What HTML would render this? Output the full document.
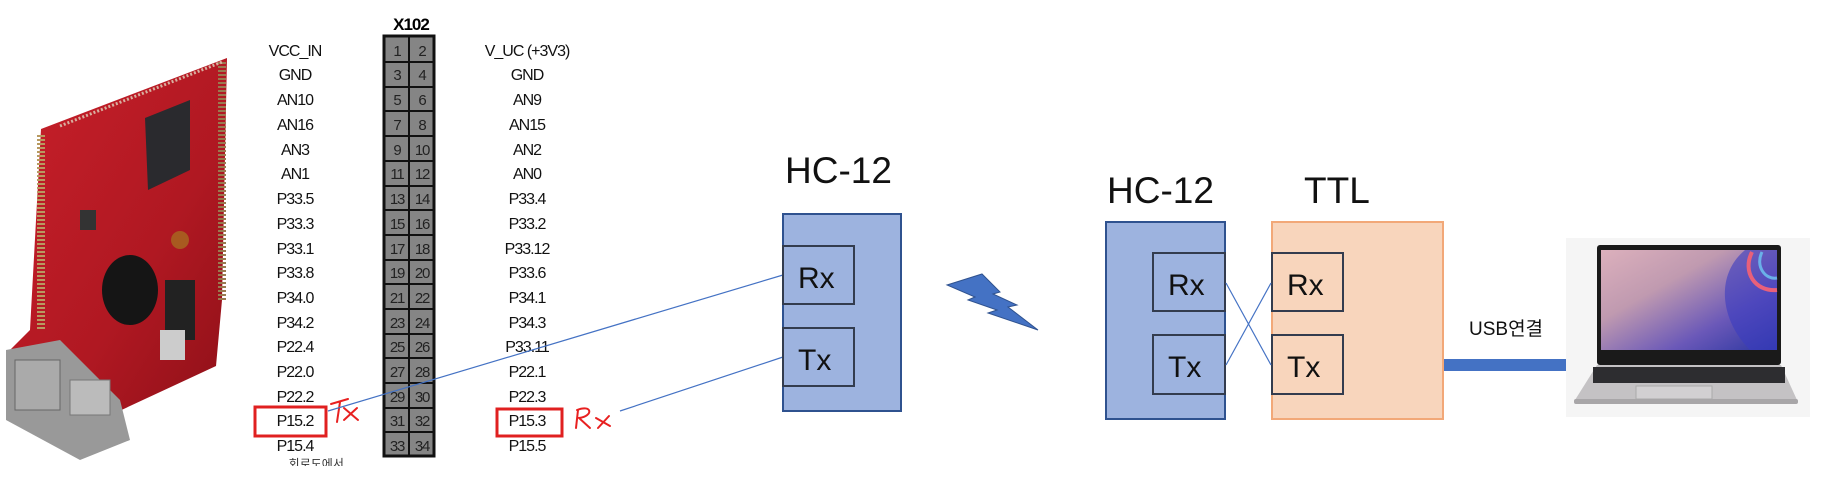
<!DOCTYPE html>
<html><head><meta charset="utf-8"><style>
html,body{margin:0;padding:0;background:#fff;}
svg{display:block}
text{font-family:"Liberation Sans","Noto Sans CJK KR",sans-serif;}
</style></head><body>
<svg width="1823" height="497" viewBox="0 0 1823 497" xmlns="http://www.w3.org/2000/svg">
<defs>
<linearGradient id="rb" x1="0" y1="0" x2="1" y2="1">
<stop offset="0" stop-color="#c8202a"/><stop offset="0.6" stop-color="#b01822"/><stop offset="1" stop-color="#8e1018"/>
</linearGradient>
<linearGradient id="scr" x1="0" y1="0" x2="1" y2="1">
<stop offset="0" stop-color="#dcb0bc"/><stop offset="0.35" stop-color="#c09ab0"/><stop offset="0.7" stop-color="#6a58b8"/><stop offset="1" stop-color="#2a36a0"/>
</linearGradient>
</defs>

<!-- board photo -->
<polygon points="41,129 227,58 222,300 216,366 100,420 6,416 10,350 30,330" fill="url(#rb)"/>
<polygon points="80,460 6,420 6,350 60,340 120,400 130,440" fill="#999"/>
<rect x="15" y="360" width="45" height="50" fill="#aaa" stroke="#666"/>
<rect x="70" y="380" width="40" height="35" fill="#bbb" stroke="#777"/>
<line x1="41" y1="135" x2="41" y2="330" stroke="#b89a60" stroke-width="8" stroke-dasharray="2,2"/>
<line x1="222" y1="62" x2="222" y2="300" stroke="#9a7a50" stroke-width="8" stroke-dasharray="2,2"/>
<line x1="60" y1="126" x2="222" y2="62" stroke="#d8b0a0" stroke-width="3" stroke-dasharray="2,2"/>
<polygon points="145,118 190,100 190,170 148,190" fill="#2a2a2e"/>
<ellipse cx="130" cy="290" rx="28" ry="35" fill="#151515"/>
<rect x="165" y="280" width="30" height="60" fill="#222"/>
<circle cx="180" cy="240" r="9" fill="#a85a20"/>
<rect x="80" y="210" width="16" height="20" fill="#333"/>
<rect x="160" y="330" width="25" height="30" fill="#ccc"/>

<!-- header -->
<text x="411" y="30" text-anchor="middle" font-size="17" font-weight="bold" letter-spacing="-1">X102</text>
<rect x="384" y="36" width="50" height="420" fill="#858585" stroke="#111" stroke-width="3"/>
<line x1="409" y1="36" x2="409" y2="456" stroke="#111" stroke-width="2"/>
<g stroke="#111" stroke-width="2">
<line x1="384" y1="62" x2="434" y2="62"/><line x1="384" y1="87" x2="434" y2="87"/><line x1="384" y1="111" x2="434" y2="111"/><line x1="384" y1="136" x2="434" y2="136"/><line x1="384" y1="161" x2="434" y2="161"/><line x1="384" y1="186" x2="434" y2="186"/><line x1="384" y1="210" x2="434" y2="210"/><line x1="384" y1="235" x2="434" y2="235"/><line x1="384" y1="260" x2="434" y2="260"/><line x1="384" y1="284" x2="434" y2="284"/><line x1="384" y1="309" x2="434" y2="309"/><line x1="384" y1="334" x2="434" y2="334"/><line x1="384" y1="358" x2="434" y2="358"/><line x1="384" y1="383" x2="434" y2="383"/><line x1="384" y1="408" x2="434" y2="408"/><line x1="384" y1="432" x2="434" y2="432"/>
</g>
<g font-size="15" fill="#222" text-anchor="middle" letter-spacing="-1.2">
<text x="397" y="56">1</text><text x="422" y="56">2</text>
<text x="397" y="80">3</text><text x="422" y="80">4</text>
<text x="397" y="105">5</text><text x="422" y="105">6</text>
<text x="397" y="130">7</text><text x="422" y="130">8</text>
<text x="397" y="155">9</text><text x="422" y="155">10</text>
<text x="397" y="179">11</text><text x="422" y="179">12</text>
<text x="397" y="204">13</text><text x="422" y="204">14</text>
<text x="397" y="229">15</text><text x="422" y="229">16</text>
<text x="397" y="254">17</text><text x="422" y="254">18</text>
<text x="397" y="278">19</text><text x="422" y="278">20</text>
<text x="397" y="303">21</text><text x="422" y="303">22</text>
<text x="397" y="328">23</text><text x="422" y="328">24</text>
<text x="397" y="352">25</text><text x="422" y="352">26</text>
<text x="397" y="377">27</text><text x="422" y="377">28</text>
<text x="397" y="402">29</text><text x="422" y="402">30</text>
<text x="397" y="426">31</text><text x="422" y="426">32</text>
<text x="397" y="451">33</text><text x="422" y="451">34</text>
</g>
<g font-size="16" fill="#111" text-anchor="middle" letter-spacing="-1">
<text x="295" y="56">VCC_IN</text><text x="295" y="80">GND</text><text x="295" y="105">AN10</text><text x="295" y="130">AN16</text><text x="295" y="155">AN3</text><text x="295" y="179">AN1</text><text x="295" y="204">P33.5</text><text x="295" y="229">P33.3</text><text x="295" y="254">P33.1</text><text x="295" y="278">P33.8</text><text x="295" y="303">P34.0</text><text x="295" y="328">P34.2</text><text x="295" y="352">P22.4</text><text x="295" y="377">P22.0</text><text x="295" y="402">P22.2</text><text x="295" y="426">P15.2</text><text x="295" y="451">P15.4</text>
<text x="527" y="56">V_UC (+3V3)</text><text x="527" y="80">GND</text><text x="527" y="105">AN9</text><text x="527" y="130">AN15</text><text x="527" y="155">AN2</text><text x="527" y="179">AN0</text><text x="527" y="204">P33.4</text><text x="527" y="229">P33.2</text><text x="527" y="254">P33.12</text><text x="527" y="278">P33.6</text><text x="527" y="303">P34.1</text><text x="527" y="328">P34.3</text><text x="527" y="352">P33.11</text><text x="527" y="377">P22.1</text><text x="527" y="402">P22.3</text><text x="527" y="426">P15.3</text><text x="527" y="451">P15.5</text>
</g>
<rect x="255" y="407" width="71" height="29" fill="none" stroke="#e02020" stroke-width="3"/>
<rect x="497" y="409" width="65" height="27" fill="none" stroke="#e02020" stroke-width="3"/>
<g fill="none" stroke="#e82020" stroke-width="2" stroke-linecap="round">
<path d="M331,404 L348,399 M340,402 L337,422 M344,408 L358,420 M357,408 L344,420"/>
<path d="M578,410 L576,428 M577,410 C592,404 594,416 579,418 L590,428 M596,418 L610,426 M609,416 L598,428"/>
</g>
<text x="282" y="468" font-size="12" fill="#333">. 회로도에서 .</text>
<rect x="240" y="466" width="200" height="31" fill="#fff"/>

<!-- connection lines -->
<line x1="328" y1="411" x2="783" y2="275" stroke="#4472c4" stroke-width="1.2"/>
<line x1="620" y1="411" x2="783" y2="357" stroke="#4472c4" stroke-width="1.2"/>

<!-- left HC-12 -->
<text x="785" y="183" font-size="37" fill="#111">HC-12</text>
<rect x="783" y="214" width="118" height="197" fill="#9db3df" stroke="#2f528f" stroke-width="2"/>
<rect x="783" y="246" width="71" height="58" fill="#9db3df" stroke="#333c4e" stroke-width="2"/>
<rect x="783" y="328" width="71" height="58" fill="#9db3df" stroke="#333c4e" stroke-width="2"/>
<text x="798" y="288" font-size="30" fill="#111">Rx</text>
<text x="798" y="370" font-size="30" fill="#111">Tx</text>

<!-- lightning -->
<polygon points="947,285 982,274 1000,292 993,294 1017,305 1008,307 1038,330 988,313 997,310 968,300 975,297" fill="#4472c4" stroke="#2f528f" stroke-width="1"/>

<!-- right HC-12 -->
<text x="1107" y="203" font-size="37" fill="#111">HC-12</text>
<rect x="1106" y="222" width="119" height="197" fill="#9db3df" stroke="#2f528f" stroke-width="2"/>
<rect x="1153" y="253" width="72" height="58" fill="#9db3df" stroke="#333c4e" stroke-width="2"/>
<rect x="1153" y="335" width="72" height="59" fill="#9db3df" stroke="#333c4e" stroke-width="2"/>
<text x="1168" y="295" font-size="30" fill="#111">Rx</text>
<text x="1168" y="377" font-size="30" fill="#111">Tx</text>

<!-- TTL -->
<text x="1304" y="203" font-size="37" fill="#111">TTL</text>
<rect x="1272" y="222" width="171" height="197" fill="#f8d5bc" stroke="#f2a878" stroke-width="2"/>
<rect x="1272" y="253" width="71" height="58" fill="#f8d5bc" stroke="#333c4e" stroke-width="2"/>
<rect x="1272" y="335" width="71" height="59" fill="#f8d5bc" stroke="#333c4e" stroke-width="2"/>
<text x="1287" y="295" font-size="30" fill="#111">Rx</text>
<text x="1287" y="377" font-size="30" fill="#111">Tx</text>
<line x1="1226" y1="283" x2="1271" y2="365" stroke="#4472c4" stroke-width="1.2"/>
<line x1="1226" y1="365" x2="1271" y2="283" stroke="#4472c4" stroke-width="1.2"/>

<!-- USB -->
<rect x="1444" y="359" width="124" height="12" fill="#4472c4"/>
<text x="1469" y="335" font-size="19" fill="#111">USB연결</text>

<!-- laptop -->
<rect x="1566" y="238" width="244" height="179" fill="#f5f5f5"/>
<rect x="1597" y="245" width="184" height="120" rx="3" fill="#1a1a1a"/>
<rect x="1601" y="250" width="176" height="100" fill="url(#scr)"/>
<path d="M1745,250 C1715,275 1720,320 1750,350 L1777,350 L1777,250 Z" fill="#3a3cc0" opacity="0.6"/>
<path d="M1752,252 C1742,272 1755,292 1777,290" fill="none" stroke="#e8607a" stroke-width="4"/>
<path d="M1762,252 C1755,266 1765,280 1777,278" fill="none" stroke="#6ab0e8" stroke-width="3"/>
<polygon points="1597,365 1781,365 1797,400 1575,400" fill="#c4c2c4"/>
<rect x="1593" y="367" width="192" height="16" fill="#2d2d30"/>
<rect x="1636" y="386" width="76" height="13" fill="#d2d0d2" stroke="#aaa"/>
<rect x="1574" y="399" width="224" height="5" rx="2" fill="#a8a6a8"/>
</svg>
</body></html>
